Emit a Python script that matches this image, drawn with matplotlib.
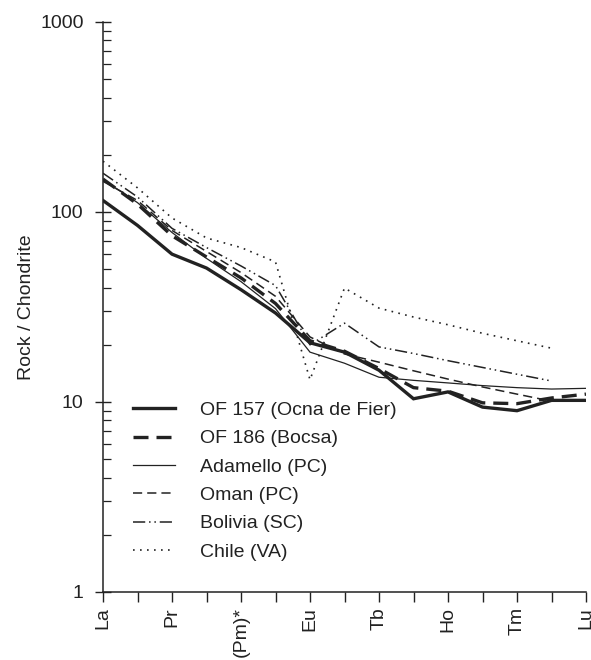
import numpy as np
import matplotlib
matplotlib.use("Agg")
import matplotlib.pyplot as plt

plt.rcParams['font.family'] = ['Liberation Sans', 'DejaVu Sans']

elements = ["La", "Ce", "Pr", "Nd", "(Pm)*", "Sm", "Eu", "Gd", "Tb", "Dy", "Ho", "Er", "Tm", "Yb", "Lu"]
tick_labels = ["La", "", "Pr", "", "(Pm)*", "", "Eu", "", "Tb", "", "Ho", "", "Tm", "", "Lu"]

of157 = [115, 85, 60, 50.7, 39, 29.4, 20.5, 18.3, 14.7, 10.4, 11.3, 9.4, 9.0, 10.2, 10.2]
of186 = [149, 110, 75, 58, 45, 33, 21, 18.5, 15, 11.9, 11.4, 9.9, 9.8, 10.5, 11.0]
adamello = [148, 112, 78, 57, 43, 31, 18.3, 16.0, 13.5, 13.0, 12.6, 12.2, 11.9, 11.7, 11.8]
oman = [145, 115, 80, 62, 48, 36, 22, 17.9, 16.2, 14.6, 13.2, 12.0, 11.0, 10.1, np.nan]
bolivia = [160, 120, 82, 65, 52, 41, 20, 26.0, 19.5, 18.0, 16.5, 15.2, 14.0, 12.9, np.nan]
chile = [185, 134, 93, 73, 65, 54.6, 13.1, 39.8, 31.2, 28.0, 25.5, 23.0, 21.0, 19.2, np.nan]

series = [
    ("OF 157 (Ocna de Fier)", of157, dict(lw=2.4, ls='-')),
    ("OF 186 (Bocsa)", of186, dict(lw=2.4, ls=(0, (4.5, 2.4)))),
    ("Adamello (PC)", adamello, dict(lw=0.9, ls='-')),
    ("Oman (PC)", oman, dict(lw=1.1, ls=(0, (6, 3.3)))),
    ("Bolivia (SC)", bolivia, dict(lw=1.1, ls=(0, (8, 2.5, 1, 2.5, 1, 2.5)))),
    ("Chile (VA)", chile, dict(lw=1.2, ls=(0, (1, 3.2)))),
]

fig = plt.figure(figsize=(5.91, 6.6), dpi=100)
ax = fig.add_axes([103/591, 1-592/660, (586-103)/591, (592-22)/660])

x = np.arange(len(elements))
col = '#222222'
for name, vals, st in series:
    ax.plot(x, vals, color=col, label=name, solid_joinstyle='miter', **st)

fs = 14
ax.set_yscale('log')
ax.set_ylim(1, 1000)
ax.set_xlim(0, len(elements) - 1)
ax.set_xticks(x)
ax.set_xticklabels(tick_labels, rotation=90, fontsize=fs)
ax.set_yticks([1, 10, 100, 1000])
ax.set_yticklabels(["1", "10", "100", "1000"], fontsize=fs)
ax.yaxis.set_minor_locator(matplotlib.ticker.LogLocator(base=10, subs=np.arange(2, 10)))
ax.yaxis.set_minor_formatter(matplotlib.ticker.NullFormatter())
ax.tick_params(axis='y', which='major', direction='inout', length=12, width=1, colors=col, pad=8)
ax.tick_params(axis='y', which='minor', direction='in', length=6, width=0.9, colors=col)
ax.tick_params(axis='x', which='major', direction='out', length=7, width=1, colors=col, pad=4)
for s in ['top', 'right']:
    ax.spines[s].set_visible(False)
for s in ['left', 'bottom']:
    ax.spines[s].set_color(col)
    ax.spines[s].set_linewidth(1.1)
ax.set_ylabel("Rock / Chondrite", fontsize=fs, color=col, labelpad=4)

leg = ax.legend(loc='upper left', bbox_to_anchor=(115/591, 1-384/660), bbox_transform=fig.transFigure,
                frameon=False, fontsize=fs, handlelength=2.2, handletextpad=1.25, labelspacing=0.55)
for t in leg.get_texts():
    t.set_color(col)

fig.savefig("out.png", dpi=100)
